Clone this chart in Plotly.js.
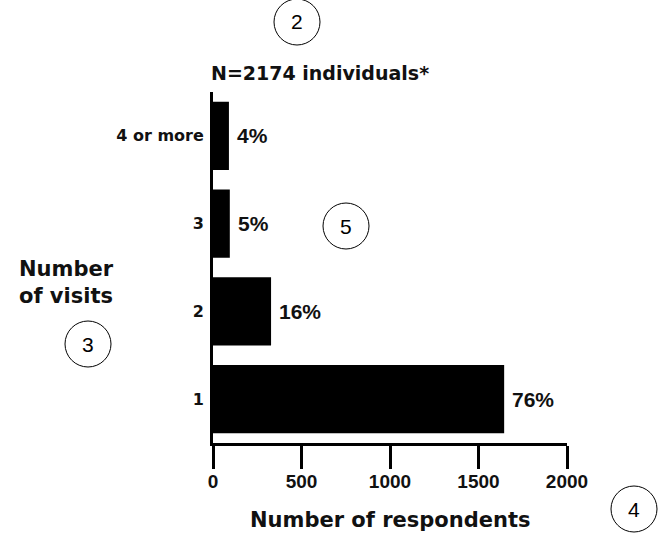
<!DOCTYPE html>
<html>
<head>
<meta charset="utf-8">
<script src="https://cdn.plot.ly/plotly-3.0.1.min.js"></script>
<style>html,body{margin:0;padding:0;background:#fff;}#chart{width:658px;height:533px;}</style>
</head>
<body>
<div id="chart"></div>
<script>
// Data
var categories = ['1', '2', '3', '4 or more'];
var respondents = [1645, 328, 95, 90];
var percentLabels = ['76%', '16%', '5%', '4%'];
var xTickValues = [0, 500, 1000, 1500, 2000];
var chartTitle = 'N=2174 individuals*';
var xTitle = 'Number of respondents';
var yTitle = 'Number<br>of visits';
var circleNumbers = ['2', '3', '4', '5'];

// Layout geometry (pixels)
var W = 658, H = 533;
var mL = 213, mR = 91, mT = 92, mB = 90;
var pw = W - mL - mR, ph = H - mT - mB;
function px(x) { return (x - mL) / pw; }
function py(y) { return (H - mB - y) / ph; }

var circleCenters = [[297, 22], [88, 344], [634, 509], [346, 226]];
var R = 23;

var shapes = [];
var annotations = [];
circleCenters.forEach(function (c, i) {
  shapes.push({type: 'circle', xref: 'paper', yref: 'paper',
    x0: px(c[0] - R), x1: px(c[0] + R), y0: py(c[1] + R), y1: py(c[1] - R),
    line: {color: '#000', width: 1}});
  annotations.push({xref: 'paper', yref: 'paper', x: px(c[0]), y: py(c[1]),
    text: circleNumbers[i], showarrow: false, xanchor: 'center', yanchor: 'middle',
    font: {family: 'Liberation Sans', size: 21, color: '#000'}});
});

categories.forEach(function (c, i) {
  annotations.push({x: respondents[i], y: i, xref: 'x', yref: 'y', text: percentLabels[i],
    showarrow: false, xanchor: 'left', yanchor: 'middle', xshift: 6,
    font: {family: 'Liberation Sans', size: 21, color: '#111', weight: 'bold'}});
});

annotations.push({xref: 'paper', yref: 'paper', x: px(320), y: py(73), text: chartTitle,
  showarrow: false, xanchor: 'center', yanchor: 'middle',
  font: {family: 'DejaVu Sans', size: 19, color: '#111', weight: 'bold'}});
annotations.push({xref: 'paper', yref: 'paper', x: px(17), y: py(282), text: yTitle,
  showarrow: false, xanchor: 'left', yanchor: 'middle', align: 'left',
  font: {family: 'DejaVu Sans', size: 21, color: '#111', weight: 'bold'}});
annotations.push({xref: 'paper', yref: 'paper', x: px(390), y: py(520), text: xTitle,
  showarrow: false, xanchor: 'center', yanchor: 'middle',
  font: {family: 'DejaVu Sans', size: 21, color: '#111', weight: 'bold'}});

var trace = {
  type: 'bar', orientation: 'h', x: respondents, y: categories,
  marker: {color: '#000', line: {width: 0}}, width: 0.775, hoverinfo: 'skip'
};

var layout = {
  width: W, height: H,
  margin: {l: mL, r: mR, t: mT, b: mB, pad: 0},
  paper_bgcolor: '#fff', plot_bgcolor: '#fff',
  showlegend: false,
  xaxis: {range: [0, 2000], tickvals: xTickValues, ticktext: xTickValues.map(String),
    showgrid: false, zeroline: false, showline: true, linecolor: '#000', linewidth: 3,
    ticks: 'outside', ticklen: 23, tickwidth: 3, tickcolor: '#000', ticklabelstandoff: -4,
    tickfont: {family: 'Liberation Sans', size: 19, color: '#111', weight: 'bold'},
    fixedrange: true},
  yaxis: {type: 'category', categoryorder: 'array', categoryarray: categories,
    range: [-0.5, 3.5], showgrid: false, zeroline: false, showline: true,
    linecolor: '#000', linewidth: 3, ticks: '', ticklabelstandoff: 3,
    tickfont: {family: 'DejaVu Sans', size: 16, color: '#111', weight: 'bold'},
    fixedrange: true},
  shapes: shapes,
  annotations: annotations
};

Plotly.newPlot('chart', [trace], layout, {staticPlot: true, displayModeBar: false});
</script>
</body>
</html>
